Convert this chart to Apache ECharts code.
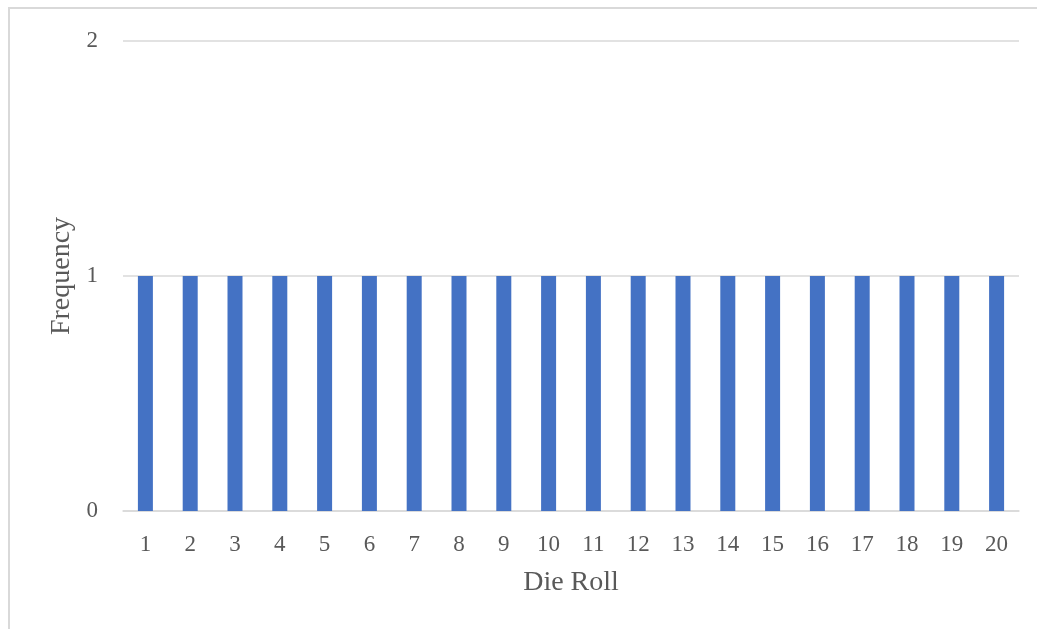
<!DOCTYPE html>
<html>
<head>
<meta charset="utf-8">
<script src="https://cdn.jsdelivr.net/npm/echarts@6/dist/echarts.min.js"></script>
<style>
  html, body { margin: 0; padding: 0; background: #ffffff; }
  #chart { width: 1037px; height: 629px; }
</style>
</head>
<body>
<div id="chart"></div>
<script>
// Frequency of each face for a 20-sided die
const dieFaces = ['1','2','3','4','5','6','7','8','9','10','11','12','13','14','15','16','17','18','19','20'];
const frequencies = [1,1,1,1,1,1,1,1,1,1,1,1,1,1,1,1,1,1,1,1];
const yTicks = [0, 1, 2];

const FONT = "'Liberation Serif', 'Times New Roman', serif";
const TEXT = '#595959';

const chart = echarts.init(document.getElementById('chart'), null, { renderer: 'canvas' });
chart.setOption({
  backgroundColor: '#ffffff',
  animation: false,
  graphic: [{
    type: 'rect',
    silent: true,
    shape: { x: 9, y: 8, width: 1200, height: 800 },
    style: { fill: 'none', stroke: '#d9d9d9', lineWidth: 2 }
  }],
  grid: { left: 123, right: 18, top: 41, bottom: 118, containLabel: false },
  xAxis: {
    type: 'category',
    data: dieFaces,
    name: 'Die Roll',
    nameLocation: 'middle',
    nameGap: 58,
    nameTextStyle: { fontFamily: FONT, fontSize: 28, color: TEXT },
    axisLine: { show: true, lineStyle: { color: '#d9d9d9', width: 1.5 } },
    axisTick: { show: false },
    axisLabel: { fontFamily: FONT, fontSize: 23, color: TEXT, margin: 22 }
  },
  yAxis: {
    type: 'value',
    min: yTicks[0],
    max: yTicks[yTicks.length - 1],
    interval: 1,
    name: 'Frequency',
    nameLocation: 'middle',
    nameGap: 37,
    nameTextStyle: { fontFamily: FONT, fontSize: 28, color: TEXT },
    axisLine: { show: false },
    axisTick: { show: false },
    splitLine: { lineStyle: { color: '#d9d9d9', width: 1.5 } },
    axisLabel: { fontFamily: FONT, fontSize: 23, color: TEXT, margin: 25 }
  },
  series: [{
    type: 'bar',
    data: frequencies,
    barWidth: 15,
    itemStyle: { color: '#4472C4' }
  }]
});
</script>
</body>
</html>
